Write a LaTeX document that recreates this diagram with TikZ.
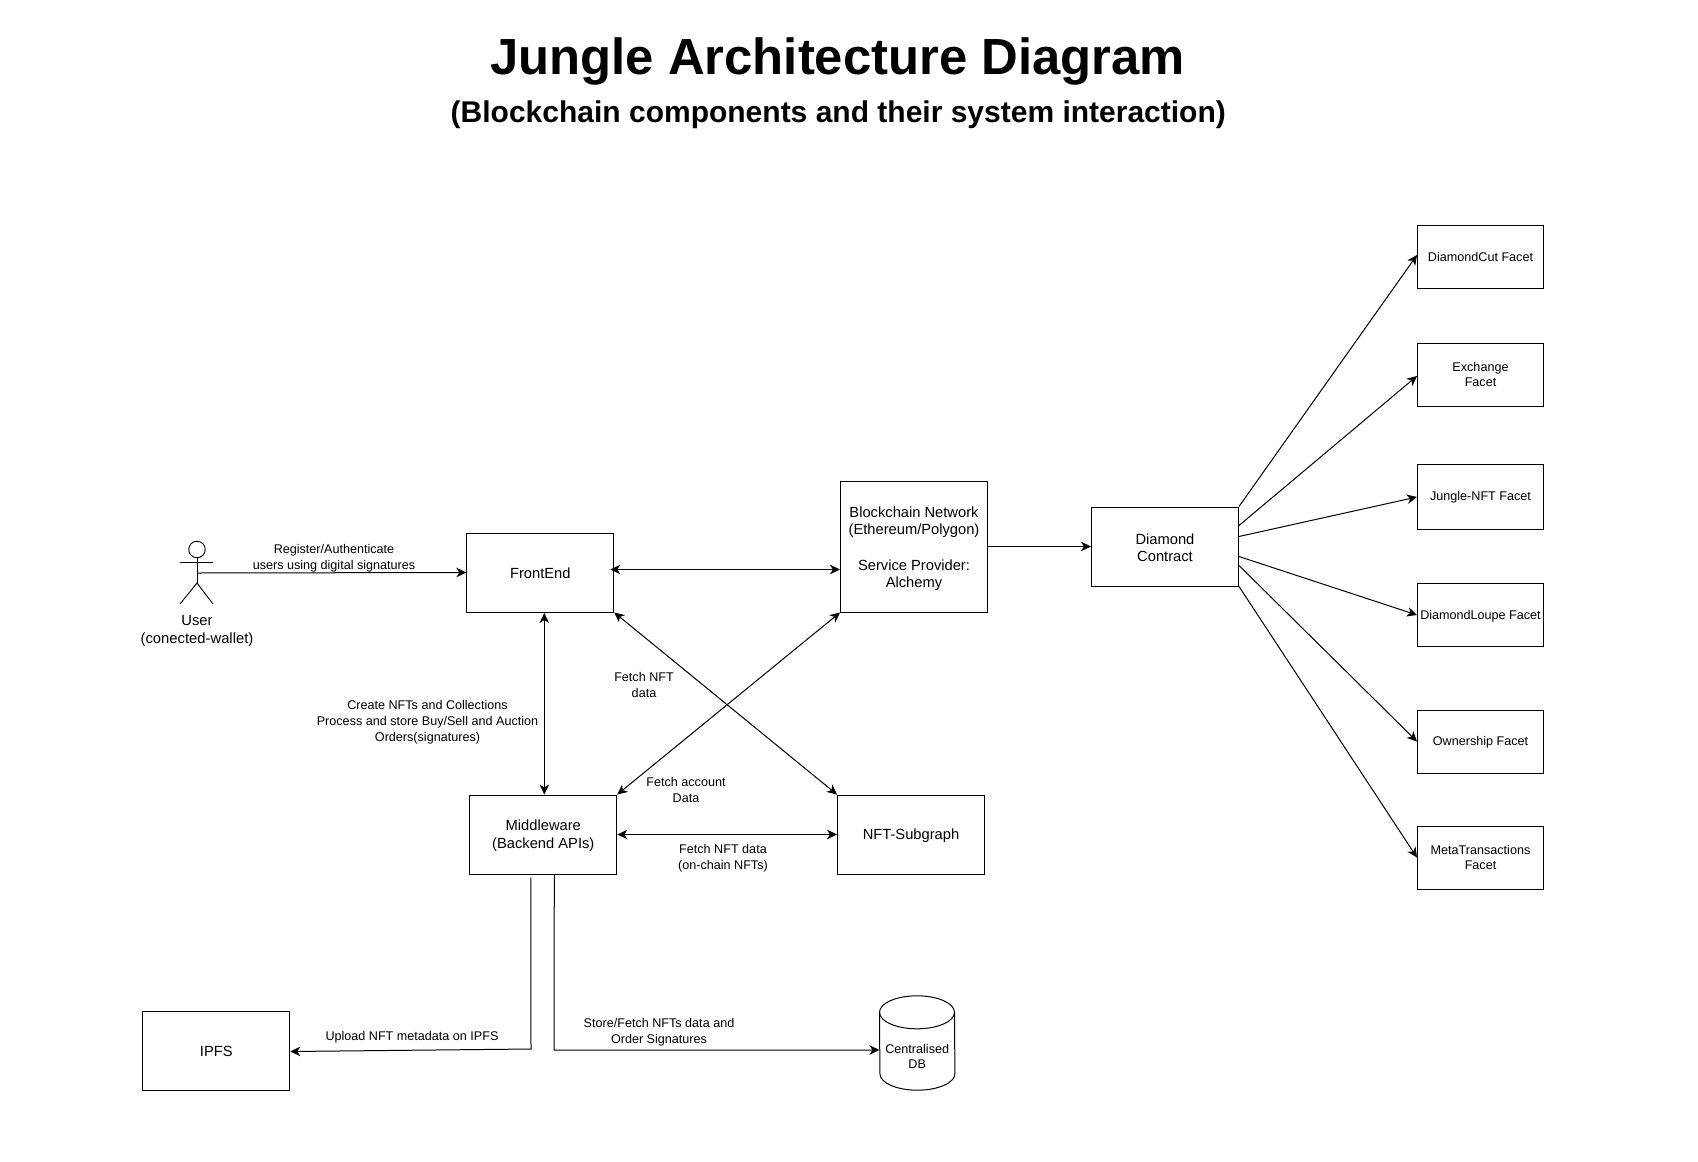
\documentclass[tikz,border=0pt]{standalone}
\usepackage{fontspec}
\setmainfont{Liberation Sans}
\usetikzlibrary{arrows.meta}
\newcommand{\boxfont}{\fontsize{14.7}{17.6}\selectfont}
\newcommand{\smallfont}{\fontsize{12.6}{15.8}\selectfont}
\tikzset{
	bigbox/.style={draw, line width=1pt, minimum width=147pt, minimum height=79pt, inner sep=0pt, align=center, font=\boxfont},
	facetbox/.style={draw, line width=1pt, minimum width=126pt, minimum height=63pt, inner sep=0pt, align=center, font=\smallfont, execute at begin node={\rule{0pt}{10.6pt}}},
	edgetext/.style={inner sep=0pt, align=center, font=\smallfont},
	conn/.style={line width=1pt, >={Stealth[length=10pt,width=9.5pt,inset=3pt]}}
}

\begin{document}
\begin{tikzpicture}[x=1pt, y=-1pt]
	\useasboundingbox (0, 0) rectangle (1698, 1162);
	% titles
	\node[inner sep=0pt, font=\fontsize{50.8}{60}\selectfont\bfseries] (title) at (837.6, 61) {Jungle Architecture Diagram};
	\node[inner sep=0pt, font=\fontsize{30}{36}\selectfont\bfseries] (subtitle) at (838.3, 114.5) {(Blockchain components and their system interaction)};
	% main boxes
	\node[bigbox, execute at begin node={\rule{0pt}{12.7pt}}] (frontend) at (540.3, 572.5) {FrontEnd};
	\node[bigbox, minimum height=131pt, text height=82.4pt, text depth=0pt] (blockchain) at (914, 546.5) {Blockchain Network\\(Ethereum/Polygon)\\\mbox{}\\Service Provider:\\Alchemy};
	\node[bigbox, text height=30.4pt, text depth=0pt] (diamond) at (1165, 546.5) {Diamond~\\Contract};
	\node[bigbox, text height=27.4pt, text depth=0pt] (middleware) at (543.3, 834.5) {Middleware\\(Backend APIs)};
	\node[bigbox, execute at begin node={\rule{0pt}{12.7pt}}] (subgraph) at (911, 834.5) {NFT-Subgraph};
	\node[bigbox, execute at begin node={\rule{0pt}{12.7pt}}] (ipfs) at (216.3, 1050.5) {IPFS};
	\node[minimum width=75pt, minimum height=94pt, inner sep=0pt] (db) at (917.2, 1043) {};
	\draw[line width=1pt] ([yshift=-16.5pt]db.north west) arc[start angle=180, end angle=0, x radius=37.5pt, y radius=16.5pt] -- ([yshift=16.5pt]db.south east) arc[start angle=0, end angle=-180, x radius=37.5pt, y radius=16.5pt] -- cycle;
	\draw[line width=1pt] ([yshift=-16.5pt]db.north west) arc[start angle=180, end angle=360, x radius=37.5pt, y radius=16.5pt];
	\node[edgetext] (dbtext) at (917.2, 1056.5) {Centralised\\DB};
	% facets
	\node[facetbox] (cut) at (1480.5, 256.5) {DiamondCut Facet};
	\node[facetbox] (exchange) at (1480.5, 374.5) {Exchange\\Facet};
	\node[facetbox, minimum height=65pt] (jungle) at (1480.5, 497) {Jungle-NFT Facet};
	\node[facetbox] (loupe) at (1480.5, 615) {DiamondLoupe Facet};
	\node[facetbox] (ownership) at (1480.5, 741.5) {Ownership Facet};
	\node[facetbox] (meta) at (1480.5, 857.5) {MetaTransactions\\Facet};
	% user
	\node[draw, circle, line width=0.9pt, minimum size=16.5pt, inner sep=0pt] (userhead) at (197, 549.5) {};
	\coordinate (userbody) at (197, 573);
	\coordinate (userhip) at (197, 583);
	\draw[line width=0.9pt] (userhead) -- (userhip);
	\draw[line width=0.9pt] (180, 562) -- (213, 562);
	\draw[line width=0.9pt] (180, 604) -- (userhip) -- (213, 604);
	\node[inner sep=0pt, align=center, font=\fontsize{14.8}{17.6}\selectfont] (user) at (197, 631) {User\\(conected-wallet)};
	% connectors
	\draw[conn, ->] (userbody) -- (frontend.west);
	\draw[conn, <->] ([xshift=-4pt, yshift=3pt]frontend.east) -- ([yshift=-23pt]blockchain.west);
	\draw[conn, <->] ([xshift=4pt, yshift=-0.5pt]frontend.south) -- ([xshift=1pt]middleware.north);
	\draw[conn, <->] (frontend.south east) -- (subgraph.north west);
	\draw[conn, <->] (blockchain.south west) -- (middleware.north east);
	\draw[conn, <->] (middleware.east) -- (subgraph.west);
	\draw[conn, ->] (blockchain.east) -- (diamond.west);
	\draw[conn, ->] (diamond.north east) -- ([yshift=1.5pt]cut.west);
	\draw[conn, ->] ([yshift=-19pt]diamond.north east) -- ([yshift=-1.5pt]exchange.west);
	\draw[conn, ->] ([yshift=-30pt]diamond.north east) -- (jungle.west);
	\draw[conn, ->] ([yshift=-50pt]diamond.north east) -- (loupe.west);
	\draw[conn, ->] ([yshift=-59pt]diamond.north east) -- (ownership.west);
	\draw[conn, ->] (diamond.south east) -- (meta.west);
	\draw[conn, ->] ([xshift=-12.5pt, yshift=-3pt]middleware.south) -- (531, 1049) -- ([yshift=-1pt]ipfs.east);
	\draw[conn, ->] ([xshift=11pt]middleware.south) -- (554, 1050) -- (db.west |- 554, 1050);
	% labels
	\node[edgetext] (registertext) at (334, 558.5) {Register/Authenticate\\users using digital signatures};
	\node[edgetext] (createtext) at (427.5, 722.5) {Create NFTs and Collections\\Process and store Buy/Sell and Auction\\Orders(signatures)};
	\node[edgetext] (fetchnfttext) at (644, 685) {Fetch NFT\\data};
	\node[edgetext] (fetchaccounttext) at (686, 790) {Fetch account\\Data};
	\node[edgetext] (onchaintext) at (723, 858) {Fetch NFT data\\(on-chain NFTs)};
	\node[edgetext] (uploadtext) at (412, 1037.5) {Upload NFT metadata on IPFS};
	\node[edgetext] (storetext) at (659, 1032.5) {Store/Fetch NFTs data and\\Order Signatures};
\end{tikzpicture}
\end{document}
